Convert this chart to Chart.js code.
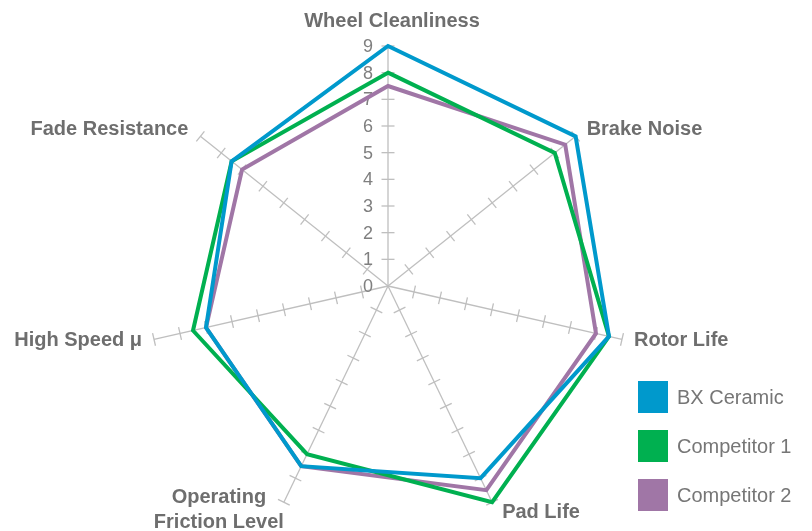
<!DOCTYPE html>
<html>
<head>
<meta charset="utf-8">
<script src="https://cdn.jsdelivr.net/npm/chart.js@4.4.1/dist/chart.umd.min.js"></script>
<style>
  body { margin: 0; background: #fff; }
  #wrap { position: relative; width: 812px; height: 531px; }
  #legend { position: absolute; left: 638px; top: 381px; font-family: "Liberation Sans", Arial, sans-serif; font-size: 20px; color: #767676; }
  #legend .item { display: flex; align-items: center; height: 32px; margin-bottom: 17px; }
  #legend .box { width: 30px; height: 32px; margin-right: 9px; }
</style>
</head>
<body>
<div id="wrap">
  <canvas id="radar" width="812" height="531"></canvas>
  <div id="legend"></div>
</div>
<script>
// Axis categories
var categories = ["Wheel Cleanliness", "Brake Noise", "Rotor Life", "Pad Life",
                  ["Operating", "Friction Level"], "High Speed \u03bc", "Fade Resistance"];

// Series values
var bxCeramic   = [9, 9, 8.5, 8, 7.5, 7, 7.5];
var competitor1 = [8, 8, 8.5, 9, 7, 7.5, 7.5];
var competitor2 = [7.5, 8.5, 8, 8.5, 7.5, 7, 7];

// Tick labels
var tickValues = [0, 1, 2, 3, 4, 5, 6, 7, 8, 9];

var seriesNames  = ["BX Ceramic", "Competitor 1", "Competitor 2"];
var seriesColors = ["#0099CC", "#00B050", "#A076A6"];

// label placement relative to axis tip: [dx, dy, align]
var labelAnchor = [
  [4, -25, "center"],
  [11, -7, "left"],
  [12, 1, "left"],
  [10, 10, "left"],
  [-65, -5, "center"],
  [-12, 1, "right"],
  [-12, -7, "right"]
];

// Spoke tick marks, value labels and axis titles
var radarDecor = {
  id: "radarDecor",
  beforeDatasetsDraw: function (chart) {
    var scale = chart.scales.r;
    var ctx = chart.ctx;
    var n = categories.length;
    ctx.save();

    // tick marks across every spoke
    ctx.strokeStyle = "#BFBFBF";
    ctx.lineWidth = 1.3;
    for (var i = 0; i < n; i++) {
      var a = scale.getIndexAngle(i) - Math.PI / 2;
      var px = -Math.sin(a), py = Math.cos(a);
      for (var k = 1; k < tickValues.length; k++) {
        var p = scale.getPointPosition(i, scale.getDistanceFromCenterForValue(tickValues[k]));
        ctx.beginPath();
        ctx.moveTo(p.x - px * 6.5, p.y - py * 6.5);
        ctx.lineTo(p.x + px * 6.5, p.y + py * 6.5);
        ctx.stroke();
      }
    }

    // value labels on the top spoke
    ctx.fillStyle = "#7F7F7F";
    ctx.font = "18px 'Liberation Sans', Arial, sans-serif";
    ctx.textAlign = "right";
    ctx.textBaseline = "middle";
    tickValues.forEach(function (v) {
      var p = scale.getPointPosition(0, scale.getDistanceFromCenterForValue(v));
      ctx.fillText(String(v), p.x - 15, p.y + 1);
    });

    // axis titles
    ctx.fillStyle = "#6E6E6E";
    ctx.font = "bold 20px 'Liberation Sans', Arial, sans-serif";
    for (var j = 0; j < n; j++) {
      var tip = scale.getPointPosition(j, scale.drawingArea);
      var an = labelAnchor[j];
      ctx.textAlign = an[2];
      var lines = [].concat(categories[j]);
      lines.forEach(function (line, li) {
        ctx.fillText(line, tip.x + an[0], tip.y + an[1] + li * 25);
      });
    }
    ctx.restore();
  }
};

var datasets = [bxCeramic, competitor1, competitor2].map(function (vals, i) {
  return {
    label: seriesNames[i],
    data: vals,
    borderColor: seriesColors[i],
    backgroundColor: seriesColors[i],
    borderWidth: 4,
    fill: false,
    pointRadius: 0,
    pointHoverRadius: 0,
    tension: 0
  };
});

var ctx1 = document.getElementById("radar").getContext("2d");
var myChart1 = new Chart(ctx1, {
  type: "radar",
  data: {
    labels: categories.map(function (c) { return [].concat(c).join(" "); }),
    datasets: datasets
  },
  options: {
    responsive: false,
    animation: false,
    devicePixelRatio: 1,
    layout: { padding: { left: 148, right: 184, top: 46, bottom: 5 } },
    plugins: { legend: { display: false }, tooltip: { enabled: false } },
    elements: { line: { borderJoinStyle: "miter" } },
    scales: {
      r: {
        min: 0,
        max: 9,
        ticks: { display: false, stepSize: 1 },
        grid: { display: false },
        angleLines: { display: true, color: "#BFBFBF", lineWidth: 1.3 },
        pointLabels: { display: false }
      }
    }
  },
  plugins: [radarDecor]
});

// HTML legend
var legend = document.getElementById("legend");
seriesNames.forEach(function (name, i) {
  var item = document.createElement("div");
  item.className = "item";
  item.innerHTML = '<div class="box" style="background:' + seriesColors[i] + '"></div><span>' + name + '</span>';
  legend.appendChild(item);
});
</script>
</body>
</html>
